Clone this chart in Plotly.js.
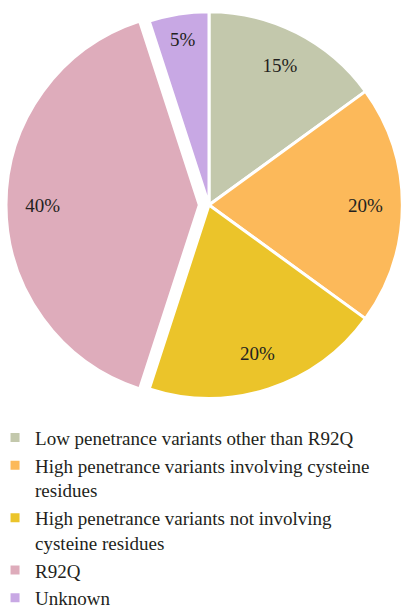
<!DOCTYPE html>
<html><head><meta charset="utf-8">
<script src="https://cdn.plot.ly/plotly-3.0.1.min.js"></script>
<style>body{margin:0;background:#fff}</style>
</head><body>
<div id="chart" style="width:412px;height:614px"></div>
<script>
const categories = [
  "Low penetrance variants other than R92Q",
  "High penetrance variants involving cysteine<br>residues",
  "High penetrance variants not involving<br>cysteine residues",
  "R92Q",
  "Unknown"
];
const values = [15, 20, 20, 40, 5];
const pulls = [0, 0, 0, 0.05, 0];
const colors = ["#C3C8AC", "#FCB95A", "#EBC42A", "#DEACBB", "#C8A8E4"];

const dom = {x: [0, 1], y: [0.3366, 1]};
const font = "Liberation Serif, serif";

const slices = {
  type: "pie",
  labels: categories,
  values: values,
  pull: pulls,
  sort: false,
  direction: "clockwise",
  rotation: 0,
  marker: {colors: colors, line: {color: "#ffffff", width: 3}},
  textinfo: "none",
  hoverinfo: "none",
  domain: dom
};

// transparent ring used only to place the percentage labels toward the rim
const labelRing = {
  type: "pie",
  labels: categories,
  values: values,
  pull: pulls,
  hole: 0.62,
  sort: false,
  direction: "clockwise",
  rotation: 0,
  showlegend: false,
  marker: {colors: colors.map(() => "rgba(0,0,0,0)"), line: {width: 0}},
  texttemplate: "%{value}%",
  textposition: "inside",
  insidetextorientation: "horizontal",
  textfont: {family: font, size: 19, color: "#231F20"},
  hoverinfo: "none",
  domain: dom
};

const layout = {
  width: 412, height: 614,
  margin: {l: 6, r: 0, t: 2, b: 0, autoexpand: false},
  paper_bgcolor: "#fff",
  showlegend: true,
  legend: {
    xref: "paper", yref: "container",
    x: -0.027, y: 0.318, xanchor: "left", yanchor: "top",
    orientation: "v", valign: "top",
    font: {family: font, size: 19, color: "#231F20"},
    bgcolor: "rgba(0,0,0,0)"
  }
};

Plotly.newPlot("chart", [slices, labelRing], layout, {displayModeBar: false, staticPlot: true});
</script>
</body></html>
